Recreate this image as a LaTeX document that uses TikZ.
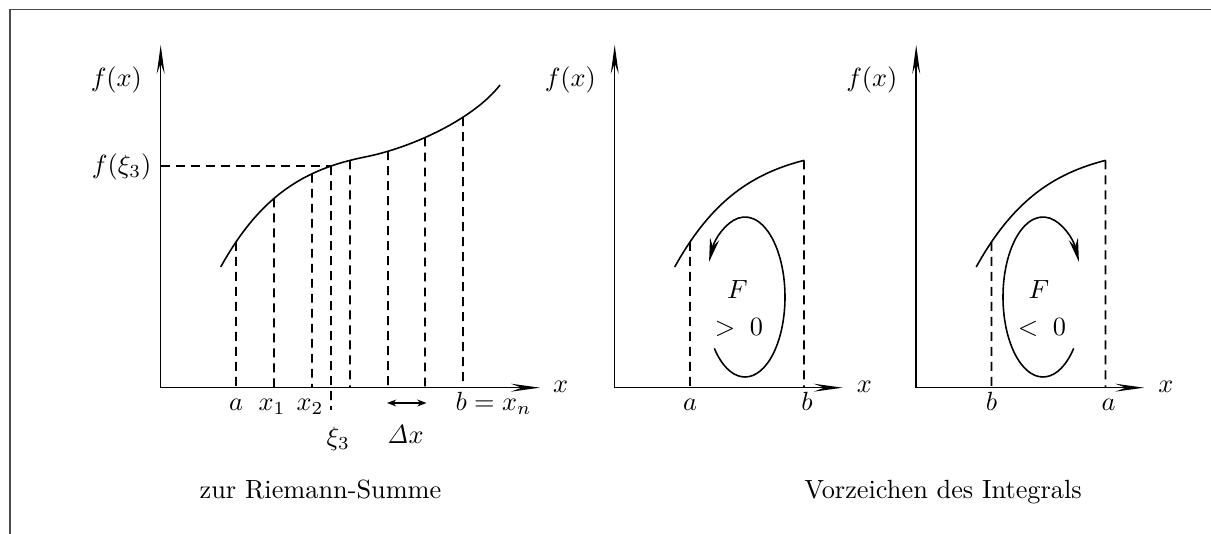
\documentclass[tikz,border=0pt]{standalone}
\usetikzlibrary{arrows.meta,calc,intersections}
\begin{document}
\begin{tikzpicture}[x=0.38pt,y=-0.38pt,
  frame/.style={line width=0.6pt, draw=black!70},
  axis/.style={line width=0.6pt, -{Stealth[length=11pt,width=3pt,inset=4pt]}},
  curve/.style={line width=0.6pt},
  guide/.style={line width=0.6pt, dash pattern=on 3.4pt off 2.3pt},
  lbl/.style={inner sep=0pt, anchor=base},
  turn/.style={line width=0.6pt, -{Stealth[length=9pt,width=3.6pt,inset=3pt]}},
  span/.style={line width=0.6pt, {Stealth[length=3.5pt,width=2.6pt]}-{Stealth[length=3.5pt,width=2.6pt]}}]
\useasboundingbox (0,0) rectangle (1211,534);
% frame
\coordinate (FB) at (10,534);
\coordinate (FC) at (10,9.5);
\coordinate (FR) at (1211,9.5);
\draw[frame] (FB) -- (FC) -- (FR);

% ---------- plot 1: Riemann sum ----------
\coordinate (O1) at (160.7,387.7);
\coordinate (Y1) at (160.7,45);
\coordinate (X1) at (540,387.7);
\draw[axis] (O1) -- (Y1);
\draw[axis] (O1) -- (X1);
\draw[curve, name path global=c1] (220.7,267) .. controls (260.7,195) and (305,169) .. (365,157)
                                  .. controls (415,147) and (475,117.5) .. (500,85);
\foreach \n/\x in {pa/236, p1/274, p2/312, p4/350, p5/388, p6/425, pn/463}{
  \path[name path global=vv] (\x,50) -- (\x,387.7);
  \path[name intersections={of=c1 and vv, by={\n t}}];
  \coordinate (\n b) at (\x,387.7);
  \draw[guide] (\n t) -- (\n b);
}
\path[name path global=vxi] (331,50) -- (331,410);
\path[name intersections={of=c1 and vxi, by={xit}}];
\coordinate (xib) at (331,410);
\draw[guide] (xit) -- (xib);
\coordinate (fy) at ($(O1|-xit)$);
\draw[guide] (fy) -- (xit);
\node[inner sep=0pt, anchor=east] (fx1) at (142.5,80) {$f(x)$};
\node[inner sep=0pt, anchor=east] (fxi) at (152,167) {$f(\xi_3)$};
\node[lbl] (x1lab) at (560.7,393) {$x$};
\node[lbl] (la) at (236,411) {$a$};
\node[lbl] (lx1) at (272,411) {$x_1$};
\node[lbl] (lx2) at (310,411) {$x_2$};
\node[lbl] (lbn) at (493.5,411) {$b=x_n$};
\node[lbl] (lxi) at (338.3,446) {$\xi_3$};
\node[lbl] (ldx) at (405.5,444) {$\mathit{\Delta} x$};
\coordinate (DL) at (387,403);
\coordinate (DR) at (426.5,403);
\draw[span] (DL) -- (DR);
\node[lbl] (cap1) at (320.5,499) {zur Riemann-Summe};

% ---------- plots 2 and 3 ----------
\foreach \s/\l/\r in {454/a/b, 755.5/b/a}{
\begin{scope}[shift={(\s,0)}]
  \coordinate (O) at (160.7,387.7);
  \coordinate (Y) at (160.7,45);
  \coordinate (X) at (388.7,387.7);
  \draw[axis] (O) -- (Y);
  \draw[axis] (O) -- (X);
  \begin{scope}
    \clip (200,100) rectangle (350,300);
    \draw[curve, name path global=cc] (220.7,267) .. controls (260.7,195) and (305,169) .. (365,157);
  \end{scope}
  \path[name path global=vl] (236,50) -- (236,387.7);
  \path[name path global=vr] (350,50) -- (350,387.7);
  \path[name intersections={of=cc and vl, by={Lt}}];
  \path[name intersections={of=cc and vr, by={Rt}}];
  \coordinate (Lb) at (236,387.7);
  \coordinate (Rb) at (350,387.7);
  \draw[guide] (Lt) -- (Lb);
  \draw[guide] (Rt) -- (Rb);
  \node[inner sep=0pt, anchor=east] (fx) at (142.5,80) {$f(x)$};
  \node[lbl] (xl) at (410.5,393) {$x$};
  \node[lbl] (ll) at (236,411) {$\l$};
  \node[lbl] (lr) at (353,411) {$\r$};
  \node[lbl] (F) at (283.5,299) {$F$};
\end{scope}
}
% orientation loops
\coordinate (E2) at (745,297);
\draw[turn] ($(E2)+(140:40 and 80)$) arc[start angle=140, end angle=-154, x radius=40, y radius=80];
\node[lbl] (g2) at (739,335.5) {$>\;0$};
\coordinate (E3) at (1043,297);
\draw[turn] ($(E3)+(40:40 and 80)$) arc[start angle=40, end angle=334, x radius=40, y radius=80];
\node[lbl] (g3) at (1042,335.5) {$<\;0$};
\node[lbl] (cap2) at (943,499) {Vorzeichen des Integrals};
\end{tikzpicture}
\end{document}
